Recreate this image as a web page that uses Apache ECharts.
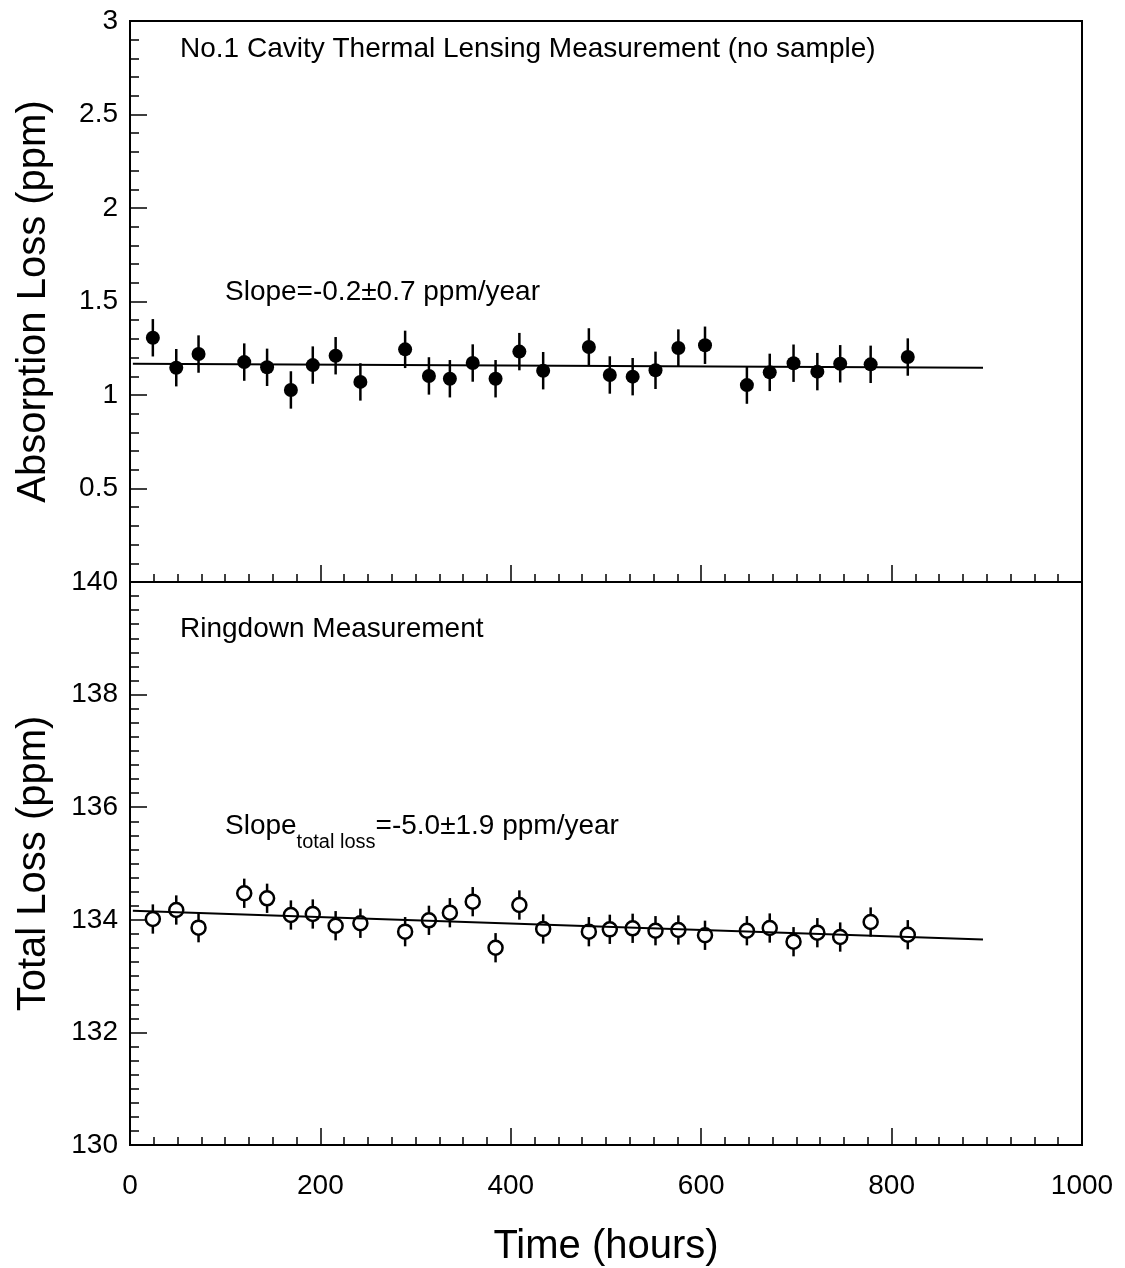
<!DOCTYPE html>
<html>
<head>
<meta charset="utf-8">
<script src="https://cdn.jsdelivr.net/npm/echarts@6/dist/echarts.min.js"></script>
<style>
  html, body { margin: 0; padding: 0; background: #fff; }
  #chart { width: 1125px; height: 1268px; }
</style>
</head>
<body>
<div id="chart"></div>
<script>
// measurement times (hours)
const hours = [24, 48.6, 72, 120, 144, 169, 192, 216, 242, 289, 314, 336, 360, 384, 409,
  434, 482, 504, 528, 552, 576, 604, 648, 672, 697, 722, 746, 778, 817];

// absorption loss (ppm), thermal lensing
const absorption = [1.306, 1.146, 1.219, 1.176, 1.148, 1.027, 1.160, 1.210, 1.070, 1.244,
  1.102, 1.087, 1.171, 1.087, 1.232, 1.130, 1.257, 1.107, 1.098, 1.132, 1.251, 1.266,
  1.053, 1.121, 1.170, 1.125, 1.167, 1.164, 1.203];
const absErr = [0.1, 0.1, 0.1, 0.1, 0.1, 0.1, 0.1, 0.1, 0.1, 0.1, 0.1, 0.1, 0.1, 0.1, 0.1,
  0.1, 0.1, 0.1, 0.1, 0.1, 0.1, 0.1, 0.1, 0.1, 0.1, 0.1, 0.1, 0.1, 0.1];

// total loss (ppm), ringdown
const totalLoss = [134.014, 134.174, 133.860, 134.471, 134.382, 134.085, 134.103, 133.895,
  133.938, 133.789, 133.991, 134.126, 134.322, 133.504, 134.263, 133.837, 133.789, 133.831,
  133.849, 133.806, 133.819, 133.725, 133.806, 133.854, 133.611, 133.771, 133.694, 133.961,
  133.735];
const totalErr = [0.26, 0.26, 0.26, 0.26, 0.26, 0.26, 0.26, 0.26, 0.26, 0.26, 0.26, 0.26,
  0.26, 0.26, 0.26, 0.26, 0.26, 0.26, 0.26, 0.26, 0.26, 0.26, 0.26, 0.26, 0.26, 0.26, 0.26,
  0.26, 0.26];

// linear fits
const fitHours = [3, 896];
const absFit = [1.167, 1.146];
const totalFit = [134.16, 133.65];

const FONT = "'Liberation Sans', Arial, sans-serif";

function errorBars(values, errs) {
  return hours.map((h, i) => [h, values[i], errs[i]]);
}

function renderErr(params, api) {
  const x = api.value(0), y = api.value(1), e = api.value(2);
  const p1 = api.coord([x, y + e]);
  const p2 = api.coord([x, y - e]);
  return {
    type: "line",
    shape: { x1: p1[0], y1: p1[1], x2: p2[0], y2: p2[1] },
    style: { stroke: "#000", lineWidth: 2.5 }
  };
}

const xCommon = {
  type: "value",
  min: 0,
  max: 1000,
  interval: 200,
  axisLine: { show: true, lineStyle: { color: "#000", width: 2 } },
  axisTick: { show: true, inside: true, length: 17, lineStyle: { color: "#000", width: 1.5 } },
  minorTick: { show: true, splitNumber: 8, length: 8, lineStyle: { color: "#000", width: 1.5 } },
  splitLine: { show: false }
};

const yCommon = {
  type: "value",
  nameLocation: "middle",
  nameRotate: 90,
  nameTextStyle: { fontFamily: FONT, fontSize: 40, color: "#000" },
  axisLine: { show: true, lineStyle: { color: "#000", width: 2 } },
  axisTick: { show: true, inside: true, length: 17, lineStyle: { color: "#000", width: 1.5 } },
  axisLabel: { fontFamily: FONT, fontSize: 28, color: "#000", margin: 12 },
  splitLine: { show: false }
};

const chart = echarts.init(document.getElementById("chart"));
chart.setOption({
  animation: false,
  backgroundColor: "#fff",
  grid: [
    { left: 130, top: 21, width: 952, height: 561, show: true, borderColor: "#000", borderWidth: 2, outerBoundsMode: "none" },
    { left: 130, top: 582, width: 952, height: 563, show: true, borderColor: "#000", borderWidth: 2, outerBoundsMode: "none" }
  ],
  xAxis: [
    Object.assign({}, xCommon, { gridIndex: 0, axisLabel: { show: false } }),
    Object.assign({}, xCommon, {
      gridIndex: 1,
      name: "Time (hours)",
      nameLocation: "middle",
      nameGap: 82,
      nameTextStyle: { fontFamily: FONT, fontSize: 40, color: "#000" },
      axisLabel: { fontFamily: FONT, fontSize: 28, color: "#000", margin: 27, formatter: v => String(v) }
    })
  ],
  yAxis: [
    Object.assign({}, yCommon, {
      gridIndex: 0,
      min: 0,
      max: 3,
      interval: 0.5,
      name: "Absorption Loss (ppm)",
      nameGap: 76,
      minorTick: { show: true, splitNumber: 5, length: 9, lineStyle: { color: "#000", width: 1.5 } },
      axisLabel: Object.assign({}, yCommon.axisLabel, { formatter: v => (v === 0 ? "" : String(v)) })
    }),
    Object.assign({}, yCommon, {
      gridIndex: 1,
      min: 130,
      max: 140,
      interval: 2,
      name: "Total Loss (ppm)",
      nameGap: 76,
      minorTick: { show: true, splitNumber: 8, length: 9, lineStyle: { color: "#000", width: 1.5 } }
    })
  ],
  graphic: [
    { type: "text", left: 180, top: 35, style: { text: "No.1 Cavity Thermal Lensing Measurement (no sample)", font: "28px " + FONT, fill: "#000" } },
    { type: "text", left: 225, top: 278, style: { text: "Slope=-0.2\u00b10.7 ppm/year", font: "28px " + FONT, fill: "#000" } },
    { type: "text", left: 180, top: 615, style: { text: "Ringdown Measurement", font: "28px " + FONT, fill: "#000" } },
    {
      type: "text", left: 225, top: 812,
      style: {
        text: "{m|Slope}{s|total loss}{m|=-5.0\u00b11.9 ppm/year}",
        rich: {
          m: { fontFamily: FONT, fontSize: 28, fill: "#000", lineHeight: 42, verticalAlign: "top" },
          s: { fontFamily: FONT, fontSize: 20, fill: "#000", lineHeight: 42, verticalAlign: "bottom", padding: [0, 0, 2, 0] }
        }
      }
    }
  ],
  series: [
    {
      type: "line", xAxisIndex: 0, yAxisIndex: 0, symbol: "none",
      data: fitHours.map((h, i) => [h, absFit[i]]),
      lineStyle: { color: "#000", width: 2 }
    },
    {
      type: "custom", xAxisIndex: 0, yAxisIndex: 0,
      data: errorBars(absorption, absErr), renderItem: renderErr
    },
    {
      type: "scatter", xAxisIndex: 0, yAxisIndex: 0, symbol: "circle", symbolSize: 14,
      data: hours.map((h, i) => [h, absorption[i]]),
      itemStyle: { color: "#000", opacity: 1 }
    },
    {
      type: "line", xAxisIndex: 1, yAxisIndex: 1, symbol: "none",
      data: fitHours.map((h, i) => [h, totalFit[i]]),
      lineStyle: { color: "#000", width: 2 }
    },
    {
      type: "custom", xAxisIndex: 1, yAxisIndex: 1,
      data: errorBars(totalLoss, totalErr), renderItem: renderErr
    },
    {
      type: "scatter", xAxisIndex: 1, yAxisIndex: 1, symbol: "circle", symbolSize: 14,
      data: hours.map((h, i) => [h, totalLoss[i]]),
      itemStyle: { color: "#fff", borderColor: "#000", borderWidth: 2.5, opacity: 1 }
    }
  ]
});
</script>
</body>
</html>
